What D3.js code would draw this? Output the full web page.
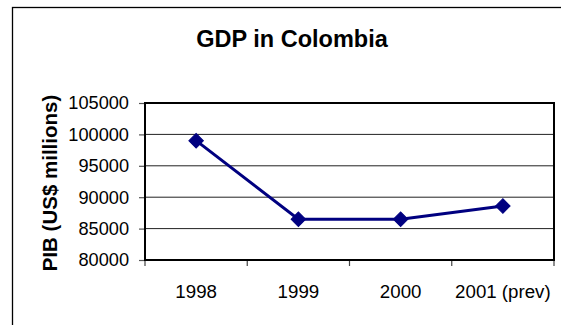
<!DOCTYPE html>
<html>
<head>
<meta charset="utf-8">
<script src="https://cdn.jsdelivr.net/npm/d3@7"></script>
<style>
  body { margin: 0; background: #fff; }
  text { font-family: "Liberation Sans", Arial, sans-serif; fill: #000; }
</style>
</head>
<body>
<div class="chart"></div>
<script>
// Chart data
var years = ["1998", "1999", "2000", "2001 (prev)"];
var gdp = [99000, 86500, 86500, 88600];
var yTicks = [80000, 85000, 90000, 95000, 100000, 105000];

var width = 561, height = 325;
var plot = { left: 145, right: 554, top: 103, bottom: 260 };

var svg = d3.select(".chart")
  .append("svg")
    .attr("width", width)
    .attr("height", height);

svg.append("rect")
  .attr("width", width)
  .attr("height", height)
  .style("fill", "#fff");

// Outer frame (cropped on the right and bottom)
svg.append("rect")
  .attr("x", 12.5)
  .attr("y", 7.5)
  .attr("width", 600)
  .attr("height", 400)
  .style("fill", "none")
  .style("stroke", "#000")
  .style("stroke-width", 1.3);

// Scales
var x = d3.scaleBand()
  .domain(years)
  .range([plot.left, plot.right]);

var y = d3.scaleLinear()
  .domain([80000, 105000])
  .range([plot.bottom, plot.top]);

// Gridlines
svg.append("g")
  .selectAll("line")
  .data(yTicks.slice(1, -1))
  .enter()
  .append("line")
    .attr("x1", plot.left)
    .attr("x2", plot.right)
    .attr("y1", function(d) { return y(d); })
    .attr("y2", function(d) { return y(d); })
    .style("stroke", "#222")
    .style("stroke-width", 1);

// Y axis
var yAxis = d3.axisLeft(y)
  .tickValues(yTicks)
  .tickSize(6)
  .tickPadding(10)
  .tickFormat(d3.format("d"));

var gy = svg.append("g")
  .attr("transform", "translate(" + plot.left + ",0)")
  .call(yAxis);
gy.select(".domain").remove();
gy.selectAll(".tick line").style("stroke", "#555").style("stroke-width", 1.2);
gy.selectAll("text")
  .style("font-size", "18.2px")
  .style("font-family", "'Liberation Sans', Arial, sans-serif");

// X axis
var xAxis = d3.axisBottom(x)
  .tickSize(0)
  .tickPadding(25);

var gx = svg.append("g")
  .attr("transform", "translate(0," + plot.bottom + ")")
  .call(xAxis);
gx.select(".domain").remove();
gx.selectAll("text")
  .style("font-size", "18.7px")
  .style("font-family", "'Liberation Sans', Arial, sans-serif");

// Category boundary ticks
var bounds = years.map(function(d) { return x(d); }).concat([plot.right]);
svg.append("g")
  .selectAll("line")
  .data(bounds)
  .enter()
  .append("line")
    .attr("x1", function(d) { return d; })
    .attr("x2", function(d) { return d; })
    .attr("y1", plot.bottom)
    .attr("y2", plot.bottom + 6)
    .style("stroke", "#444")
    .style("stroke-width", 1.2);

// Plot border
svg.append("rect")
  .attr("x", plot.left)
  .attr("y", plot.top)
  .attr("width", plot.right - plot.left)
  .attr("height", plot.bottom - plot.top)
  .style("fill", "none")
  .style("stroke", "#000")
  .style("stroke-width", 2);

// Line
var line = d3.line()
  .x(function(d, i) { return x(years[i]) + x.bandwidth() / 2; })
  .y(function(d) { return y(d); });

svg.append("path")
  .datum(gdp)
  .attr("d", line)
  .style("fill", "none")
  .style("stroke", "#000080")
  .style("stroke-width", 3);

// Diamond markers
var diamond = d3.symbol().type(d3.symbolSquare).size(105);
svg.append("g")
  .selectAll("path")
  .data(gdp)
  .enter()
  .append("path")
    .attr("d", diamond)
    .attr("transform", function(d, i) {
      return "translate(" + (x(years[i]) + x.bandwidth() / 2) + "," + y(d) + ") rotate(45)";
    })
    .style("fill", "#000080")
    .style("stroke", "#000080")
    .style("stroke-width", 1);

// Title
svg.append("text")
  .attr("x", 292)
  .attr("y", 46.5)
  .attr("text-anchor", "middle")
  .style("font-size", "23.5px")
  .style("font-weight", "bold")
  .text("GDP in Colombia");

// Y axis label
svg.append("text")
  .attr("transform", "translate(57,183) rotate(-90)")
  .attr("text-anchor", "middle")
  .style("font-size", "20.5px")
  .style("font-weight", "bold")
  .text("PIB (US$ millions)");
</script>
</body>
</html>
